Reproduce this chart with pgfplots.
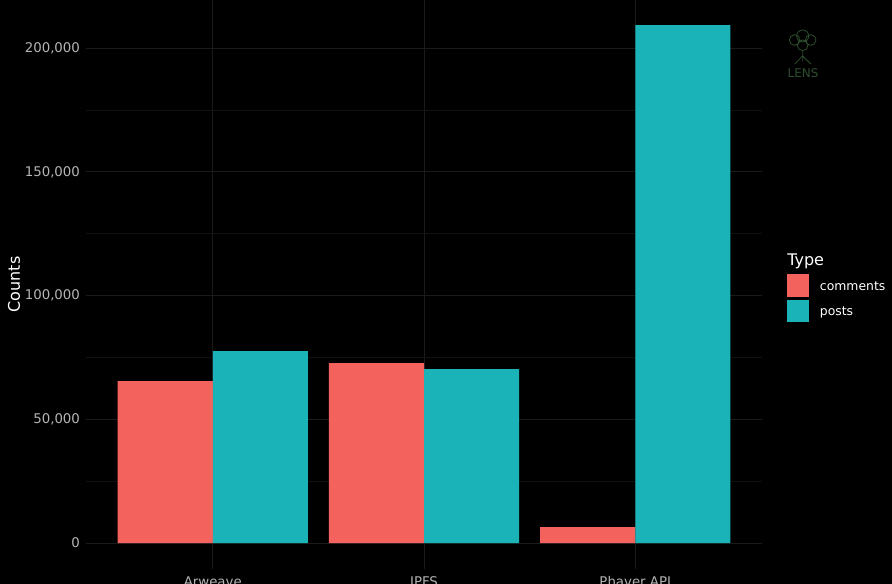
\documentclass[border=0pt]{standalone}
\usepackage{pgfplots}
\pgfplotsset{compat=1.18}
\usepackage{fontspec}
\setmainfont{DejaVu Sans}
\definecolor{cmt}{HTML}{F3625D}
\definecolor{pst}{HTML}{1AB4B8}
\definecolor{gmaj}{HTML}{1B1B1B}
\definecolor{gmin}{HTML}{111111}
\definecolor{tick}{HTML}{B4B4B4}
\definecolor{lens}{HTML}{2E4E2E}
\begin{document}
\begin{tikzpicture}[x=1pt,y=1pt]
\fill[black] (0,0) rectangle (669,438);
\path[use as bounding box] (0,0) rectangle (669,438);
\begin{axis}[
  at={(64.5pt,11.25pt)}, anchor=south west,
  scale only axis, width=507pt, height=426.75pt,
  xmin=0.4, xmax=3.6, ymin=-10450, ymax=219450,
  axis line style={draw=none},
  major tick style={draw=none}, minor tick style={draw=none},
  xtick={1,2,3}, xticklabels={Arweave,IPFS,Phaver API},
  ytick={0,50000,100000,150000,200000},
  minor ytick={25000,75000,125000,175000},
  scaled y ticks=false,
  yticklabel={\pgfmathprintnumber[1000 sep={,},fixed,precision=0]{\tick}},
  /pgf/number format/assume math mode=true,
  ymajorgrids, xmajorgrids, yminorgrids,
  major grid style={draw=gmaj, line width=0.6pt},
  minor grid style={draw=gmin, line width=0.4pt},
  tick label style={font=\fontsize{10}{12}\selectfont, text=tick},
  xticklabel style={yshift=2pt},
  yticklabel style={xshift=-1pt},
  ylabel={Counts},
  ylabel style={at={(axis description cs:-0.1065,0.5)}, anchor=center, text=white, font=\fontsize{12}{14}\selectfont},
  ybar=0pt, bar width=0.45,
  legend style={at={(axis description cs:1.037,0.494)}, anchor=west, draw=none, fill=black, text=white,
    font=\fontsize{9.3}{11}\selectfont, row sep=2pt, inner sep=0pt,
    nodes={inner sep=0pt, text depth=0pt}},
  legend cell align=left,
  legend image code/.code={\fill[#1] (0pt,-8.5pt) rectangle (16.5pt,8.5pt);},
]
\addlegendimage{empty legend}
\addlegendentry{\hspace{-16.5pt}\raisebox{5pt}{\fontsize{12}{14}\selectfont Type}}
\addplot[fill=cmt, draw=none] coordinates {(1,65450) (2,72700) (3,6450)};
\addlegendentry{\hspace{8pt}comments}
\addplot[fill=pst, draw=none] coordinates {(1,77600) (2,70300) (3,209300)};
\addlegendentry{\hspace{8pt}posts}
\end{axis}
% LENS logo
\node[text=lens, font=\fontsize{9}{10}\selectfont] at (602.25,383.25) {LENS};
\begin{scope}[draw=lens, line width=0.6pt]
\draw (596,408) circle (4) (602,411) circle (4.5) (608,408) circle (4) (602,404) circle (4);
\draw (602,400) -- (602,392) (602,396) -- (596,390) (602,396) -- (608,390);
\end{scope}
\end{tikzpicture}
\end{document}
